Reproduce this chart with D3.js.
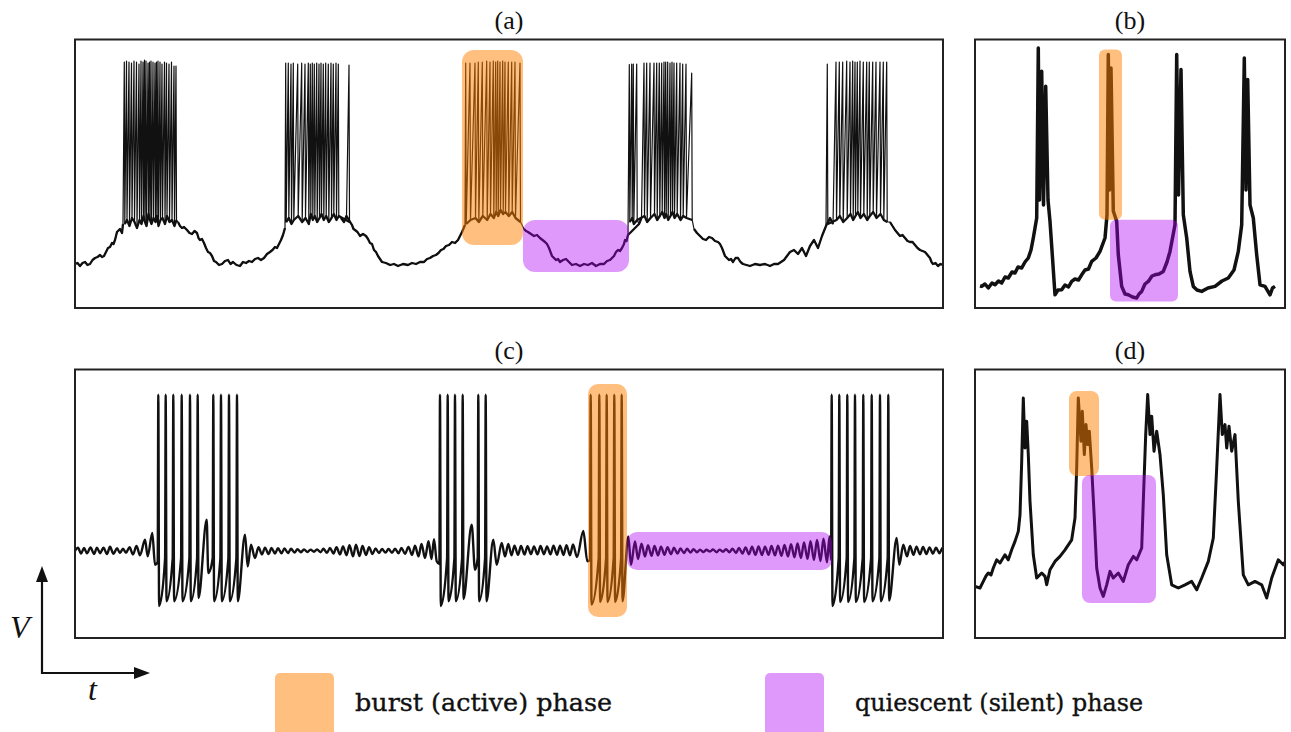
<!DOCTYPE html>
<meta charset="utf-8">
<script src="https://d3js.org/d3.v7.min.js"></script>
<style>
  body { margin: 0; background: #fff; }
  .frame { fill: none; stroke: #222; stroke-width: 2; }
  .ptitle { font-family: "Liberation Serif", serif; font-size: 26px; fill: #111; text-anchor: middle; }
  .legend-label { font-family: "DejaVu Serif", serif; font-size: 24px; fill: #111; stroke: #111; stroke-width: 0.35; }
  .axis-letter { font-family: "Liberation Serif", serif; font-style: italic; font-size: 32px; fill: #111; }
</style>
<div id="chart"></div>
<script>
// ---- data: time in s, voltage in mV ----

// (a) experimental bursting trace: slow wave [t, V] + spikes [t, peak, trough]
const aBase = [[0,-67],[0.025,-66.5],[0.05,-68],[0.075,-66.5],[0.10,-66],[0.125,-67.5],[0.15,-67],[0.175,-65],[0.20,-64],
  [0.225,-63.5],[0.25,-62.5],[0.27,-63.5],[0.29,-63],[0.31,-61],[0.33,-59],[0.35,-58.5],[0.37,-56.5],[0.385,-57],[0.40,-55],
  [0.42,-51],[0.45,-49.5],[0.47,-51.5],[0.48,-47],
  [1.03,-46],[1.05,-48],[1.07,-49],[1.09,-48.5],[1.12,-50],[1.145,-51.5],[1.17,-52],[1.195,-50.5],[1.22,-51.5],[1.235,-54],
  [1.25,-55],[1.27,-54.5],[1.29,-56.5],[1.31,-59],[1.33,-61],[1.35,-61.5],[1.37,-63],[1.39,-65.5],[1.41,-66],[1.44,-67.5],
  [1.47,-67],[1.50,-65.5],[1.53,-65],[1.555,-67],[1.58,-66],[1.615,-67.5],[1.65,-68],[1.68,-66],[1.71,-66.5],[1.74,-65.5],
  [1.77,-66],[1.80,-64.5],[1.83,-64],[1.86,-65],[1.89,-64],[1.92,-62],[1.95,-61],[1.975,-60],[2.00,-58.5],[2.02,-59],
  [2.04,-57],[2.06,-55],[2.08,-52.5],[2.10,-49],
  [2.66,-44],[2.69,-46],[2.715,-43],
  [2.77,-47.5],[2.785,-49.5],[2.80,-50],[2.825,-51],[2.85,-53],[2.88,-52],[2.91,-53],[2.93,-54.5],[2.95,-56.5],[2.97,-57],
  [2.99,-60],[3.01,-61],[3.03,-63],[3.05,-64.5],[3.07,-66],[3.11,-66.5],[3.15,-67.5],[3.19,-67],[3.23,-68],[3.28,-67],
  [3.33,-67.5],[3.37,-66.5],[3.41,-67],[3.45,-66],[3.49,-66],[3.52,-64.5],[3.55,-64],[3.58,-63],[3.61,-62.5],[3.635,-61.5],
  [3.66,-60],[3.685,-59.5],[3.71,-58],[3.74,-57.5],[3.77,-56],[3.80,-56.5],[3.83,-55],[3.85,-53],[3.87,-51],[3.90,-47.5],
  [4.49,-49.5],[4.51,-50.5],[4.53,-51],[4.56,-52],[4.59,-53],[4.62,-52.5],[4.65,-54],[4.675,-55],[4.70,-56],[4.72,-57],
  [4.74,-59],[4.755,-61],[4.77,-63],[4.79,-64],[4.81,-65],[4.83,-64.5],[4.85,-66],[4.88,-65],[4.91,-64.5],[4.94,-66],
  [4.97,-67.5],[5.01,-67],[5.05,-68],[5.09,-67],[5.13,-67.5],[5.17,-66.5],[5.21,-68],[5.25,-67],[5.29,-67],[5.32,-65.5],
  [5.35,-65],[5.37,-64],[5.39,-63],[5.41,-61],[5.43,-60],[5.45,-60.5],[5.47,-59],[5.49,-57],[5.50,-55],[5.515,-55.5],[5.53,-52.5],
  [5.64,-47],[5.665,-44],
  [6.19,-49.5],[6.22,-51.5],[6.25,-53],[6.28,-54.5],[6.31,-55],[6.34,-53.5],[6.37,-54],[6.40,-55.5],[6.43,-56],[6.45,-57],
  [6.47,-59],[6.485,-61],[6.50,-63],[6.52,-64],[6.54,-65],[6.56,-64.5],[6.58,-66],[6.605,-64],[6.63,-64],[6.655,-66],
  [6.68,-67],[6.715,-67.5],[6.75,-68],[6.80,-67],[6.85,-67.5],[6.90,-67],[6.95,-68],[6.99,-67],[7.03,-67],[7.06,-66],
  [7.09,-65],[7.12,-63],[7.15,-61],[7.19,-60],[7.23,-62],[7.27,-59],[7.31,-63],[7.35,-58],[7.39,-55],[7.43,-59],[7.47,-53],[7.51,-48],
  [7.55,-44],[7.58,-47],
  [8.15,-46],[8.175,-48],[8.20,-50],[8.225,-51.5],[8.25,-53],[8.275,-52.5],[8.30,-54],[8.325,-55.5],[8.35,-56],[8.375,-56],
  [8.40,-57.5],[8.425,-59],[8.45,-60],[8.475,-60.5],[8.50,-61],[8.525,-62.5],[8.55,-64],[8.565,-66],[8.58,-67],[8.605,-66.5],
  [8.63,-68],[8.655,-67],[8.68,-67.5]];

const aBurst1 = [[0.493,34,-47],[0.515,34.5,-45],[0.54,34,-48],[0.565,33.5,-44],[0.59,34.5,-46],[0.615,34,-49],[0.64,33,-45],
  [0.66,34.5,-47],[0.68,34,-43],[0.695,35,-46],[0.71,34.5,-48],[0.73,33.5,-42],[0.745,34,-45],[0.76,34.5,-47],[0.78,34,-44],
  [0.80,33.5,-46],[0.815,34,-43],[0.83,34.5,-48],[0.85,34,-45],[0.87,33,-44],[0.895,34,-47],[0.915,33.5,-43],[0.94,33,-46],
  [0.965,34,-45],[0.99,32,-48],[1.01,32,-45]];
const aBurst2 = [[2.107,33.5,-46],[2.133,33.5,-44],[2.16,33,-47],[2.183,33.5,-45],[2.227,33,-43],[2.267,33.5,-46],[2.30,33,-44],
  [2.333,33.5,-47],[2.353,33,-42],[2.373,33.5,-45],[2.393,33,-43],[2.417,33.5,-46],[2.44,33,-44],[2.46,33.5,-42],[2.483,33,-45],
  [2.507,33.5,-43],[2.533,33,-46],[2.56,33.5,-44],[2.583,33,-42],[2.61,33.5,-45],[2.633,33,-43],[2.74,32.5,-46]];
const aBurst3 = [[3.907,33.5,-47],[3.95,33.5,-45],[4.00,33.5,-44],[4.033,34,-46],[4.073,34,-43],[4.117,34.5,-45],[4.15,34,-42],
  [4.183,34.5,-44],[4.207,34,-41],[4.227,34.5,-43],[4.25,34,-40],[4.277,34.5,-42],[4.30,34,-41],[4.333,34,-43],[4.367,34,-41],
  [4.40,34,-44],[4.45,33.5,-46]];
const aBurst4 = [[5.543,32.7,-46],[5.567,33,-44],[5.583,33,-47],[5.617,33,-45],[5.69,33.5,-43],[5.717,33.5,-46],[5.75,33.5,-44],
  [5.79,33.5,-42],[5.817,33.5,-45],[5.843,33.5,-43],[5.867,33.5,-41],[5.89,34,-44],[5.907,34,-42],[5.927,34,-45],[5.95,33.5,-43],
  [5.97,34,-41],[5.99,33.5,-44],[6.017,33.5,-42],[6.05,33.5,-45],[6.077,33,-43],[6.11,33,-44],[6.167,28.5,-45]];
const aBurst5 = [[7.523,33,-47],[7.61,34,-45],[7.643,34,-43],[7.677,34,-46],[7.717,34.5,-44],[7.75,34,-42],[7.777,34.5,-45],
  [7.80,34,-43],[7.823,34,-41],[7.85,34.5,-44],[7.883,34,-42],[7.917,34,-45],[7.943,34,-43],[7.977,34,-41],[8.01,34,-44],
  [8.05,34,-42],[8.083,34,-45],[8.117,34,-46]];

// (b) recorded trace [t, V]
const bTrace = [[0.05,-78],[0.067,-78.2],[0.10,-77],[0.133,-79],[0.17,-76.5],[0.20,-77.4],[0.235,-75.5],[0.267,-76.5],[0.30,-73.5],
  [0.333,-74],[0.37,-71],[0.40,-71.5],[0.43,-68.5],[0.467,-69],[0.50,-66],[0.533,-64],[0.56,-60],[0.583,-54],[0.617,-44],
  [0.633,41],[0.645,-35],[0.667,29.4],[0.685,-37.5],[0.707,21.9],[0.73,-35],[0.75,-45.7],[0.773,-62.4],[0.80,-82.4],
  [0.83,-80],[0.867,-79.9],[0.90,-77.5],[0.935,-78.5],[0.967,-75.7],[1.00,-74.5],[1.035,-75],[1.067,-72.4],[1.10,-70],
  [1.135,-69.5],[1.167,-65.7],[1.21,-64],[1.25,-60.7],[1.30,-54],[1.32,-42.5],[1.333,37.7],[1.345,-30],[1.36,31],
  [1.383,-40.5],[1.417,-45.7],[1.433,-62.4],[1.467,-78.2],[1.50,-82],[1.533,-82.4],[1.575,-83.5],[1.617,-84],[1.64,-82],
  [1.667,-80.7],[1.70,-77],[1.733,-75.7],[1.77,-73],[1.80,-72.4],[1.84,-72],[1.883,-70.7],[1.92,-66],[1.95,-60.7],[2.00,-47.4],
  [2.017,37.7],[2.035,-32.5],[2.06,30.2],[2.083,-42.4],[2.117,-54],[2.15,-70.7],[2.183,-78.2],[2.22,-80],[2.267,-80.7],
  [2.33,-79],[2.40,-78.2],[2.47,-75.5],[2.533,-74],[2.59,-70],[2.633,-60.7],[2.667,-47.4],[2.693,36],[2.71,-30],[2.727,25.2],
  [2.75,-37.4],[2.783,-44],[2.817,-62.4],[2.85,-77.4],[2.90,-78.2],[2.95,-82.4],[2.975,-79],[3.00,-78.2]];

// (c) model trace: oscillations [t, V] + spikes [t, pre, peak, trough]
const cBase = [[0,-45.4],[0.03,-43.9],[0.06,-46.8],[0.09,-44.0],[0.12,-46.7],[0.155,-43.7],[0.19,-47.0],[0.22,-43.8],[0.25,-46.6],
  [0.285,-43.9],[0.32,-47.0],[0.35,-43.4],[0.385,-46.9],[0.42,-44.1],[0.45,-46.5],[0.48,-44.3],[0.51,-46.4],[0.545,-43.6],
  [0.58,-47.2],[0.615,-43.0],[0.65,-47.6],[0.70,-39.9],[0.727,-48.2],[0.773,-36.5],[0.80,-52.4],
  [1.317,-29.9],[1.333,-56.5],
  [1.70,-37.4],[1.727,-53.2],[1.76,-42.4],[1.80,-49],
  [1.835,-43.6],[1.87,-47.2],[1.90,-43.8],[1.935,-47.0],[1.965,-44.0],[2.00,-46.8],[2.03,-44.1],[2.065,-46.7],[2.095,-44.2],
  [2.13,-46.5],[2.16,-44.4],[2.195,-46.3],[2.225,-44.6],[2.26,-46.1],[2.29,-44.7],[2.325,-46.0],[2.355,-44.8],[2.39,-45.9],
  [2.42,-44.7],[2.455,-46.1],[2.485,-44.4],[2.52,-46.4],[2.55,-44.0],[2.585,-46.8],[2.615,-43.6],[2.65,-47.2],[2.68,-43.2],
  [2.715,-47.6],[2.745,-42.6],[2.78,-48.2],[2.81,-42.4],[2.845,-48.0],[2.875,-43.0],[2.91,-47.5],[2.94,-43.6],[2.975,-47.0],
  [3.005,-44.2],[3.04,-46.5],[3.07,-44.5],[3.105,-46.3],[3.135,-44.5],[3.17,-46.4],[3.20,-44.3],[3.235,-46.6],[3.265,-44.0],
  [3.30,-46.9],[3.335,-43.5],[3.37,-47.5],[3.40,-42.8],[3.435,-48.2],[3.465,-42.0],[3.50,-49.0],[3.535,-40.6],[3.565,-49.5],
  [3.59,-39.6],[3.617,-50.6],
  [3.967,-32.4],[4.00,-54.9],
  [4.183,-39.9],[4.217,-52.4],[4.267,-41.5],[4.30,-48.2],
  [4.333,-42.0],[4.365,-47.6],[4.395,-42.8],[4.43,-47.4],[4.46,-43.0],[4.495,-47.3],[4.525,-43.1],[4.56,-47.1],[4.59,-43.2],
  [4.625,-47.2],[4.655,-43.0],[4.69,-47.1],[4.72,-43.2],[4.755,-47.2],[4.785,-42.9],[4.82,-47.4],[4.85,-42.8],[4.885,-47.5],
  [4.915,-42.6],[4.95,-47.7],[4.98,-42.2],[5.02,-48.5],[5.083,-35.5],[5.123,-50.6],
  [5.533,-38.2],[5.56,-52.4],[5.60,-40.7],
  [5.63,-49.5],[5.665,-41.8],[5.70,-48.3],[5.73,-42.6],[5.765,-47.9],[5.795,-43.0],[5.83,-47.6],[5.86,-43.3],[5.895,-47.4],
  [5.925,-43.6],[5.96,-47.1],[5.99,-43.9],[6.025,-46.8],[6.055,-44.2],[6.09,-46.5],[6.12,-44.4],[6.155,-46.3],[6.185,-44.6],
  [6.22,-46.1],[6.25,-44.8],[6.285,-46.0],[6.315,-44.9],[6.35,-45.8],[6.38,-44.7],[6.415,-46.1],[6.445,-44.8],[6.48,-45.9],
  [6.51,-44.6],[6.545,-46.1],[6.575,-44.3],[6.61,-46.5],[6.64,-44.0],[6.675,-46.8],[6.705,-43.7],[6.74,-47.1],[6.77,-43.4],
  [6.805,-47.4],[6.835,-43.2],[6.87,-47.5],[6.90,-43.3],[6.935,-47.4],[6.965,-43.0],[7.00,-47.7],[7.03,-42.8],[7.065,-47.9],
  [7.095,-42.5],[7.13,-48.2],[7.16,-42.1],[7.195,-48.6],[7.225,-41.7],[7.26,-49.0],[7.29,-41.2],[7.325,-49.4],[7.355,-40.6],
  [7.39,-50.0],[7.42,-40.0],[7.455,-50.5],[7.485,-39.4],[7.52,-51.2],[7.545,-38.2],
  [8.217,-39],[8.243,-52.4],[8.283,-42.4],[8.32,-48.2],
  [8.35,-43.0],[8.385,-47.4],[8.415,-43.3],[8.45,-47.2],[8.48,-43.5],[8.515,-47.0],[8.545,-43.7],[8.58,-46.8],[8.61,-43.9],
  [8.645,-46.6],[8.675,-44.0],[8.70,-45.4]];

const cSpikes1 = [[0.833,-51,32.6,-73],[0.907,-49,32.6,-70.6],[0.983,-49,32.6,-70.6],[1.067,-49,32.6,-70.6],[1.15,-49,32.6,-70.6],
  [1.227,-49,32.6,-69],[1.383,-49,32.6,-70.6],[1.46,-49,32.6,-70.6],[1.54,-49,32.6,-70.6],[1.62,-49,32.6,-70.6]];
const cSpikes2 = [[3.65,-52,32.6,-73],[3.727,-49,32.6,-70.6],[3.80,-49,32.6,-70.6],[3.877,-49,32.6,-69.5],[4.033,-49,32.6,-70.6],
  [4.107,-49,32.6,-70.6]];
const cSpikes3 = [[5.157,-50,32.6,-72.3],[5.243,-49,32.6,-71],[5.317,-49,32.6,-71],[5.393,-49,32.6,-71],[5.467,-49,32.6,-70.6]];
const cSpikes4 = [[7.567,-50,32.6,-73],[7.643,-49,32.6,-71],[7.723,-49,32.6,-71],[7.80,-49,32.6,-71],[7.883,-49,32.6,-71],
  [7.967,-49,32.6,-70.6],[8.05,-49,32.6,-70.6],[8.133,-49,32.6,-70.3]];

// (d) recorded trace [t, V]
const dTrace = [[0,-63.2],[0.05,-64],[0.083,-60.7],[0.11,-58],[0.133,-56.5],[0.16,-57.5],[0.183,-54],[0.217,-49.9],[0.25,-51.5],
  [0.30,-47.4],[0.333,-49.9],[0.367,-44.9],[0.40,-40.7],[0.433,-35.7],[0.45,-27.4],[0.467,-0.7],[0.483,31],[0.50,6],
  [0.517,19.4],[0.533,2.7],[0.55,-20.7],[0.583,-47.4],[0.617,-59],[0.667,-56.5],[0.70,-58.2],[0.717,-62.4],[0.75,-54.9],
  [0.80,-50.7],[0.85,-48.2],[0.90,-44.9],[0.967,-39.9],[1.00,-29],[1.017,-4],[1.033,31],[1.06,9.4],[1.073,24.4],[1.093,2.7],
  [1.11,17.7],[1.127,7.7],[1.143,14.4],[1.167,-4],[1.193,-29],[1.217,-54],[1.25,-64],[1.283,-68.2],[1.317,-62.4],[1.35,-55.7],
  [1.383,-59],[1.433,-56.5],[1.483,-60.7],[1.533,-52.4],[1.583,-48.2],[1.617,-49.9],[1.667,-44],[1.683,-20.7],[1.707,12.7],
  [1.727,32.7],[1.75,12.7],[1.767,21.9],[1.79,4.4],[1.817,14.4],[1.85,2.7],[1.883,-17.4],[1.917,-47.4],[1.967,-62.4],
  [2.033,-64],[2.10,-62.4],[2.167,-60.7],[2.217,-64.9],[2.267,-59],[2.333,-50.7],[2.383,-39],[2.417,-4],[2.45,32.7],
  [2.473,12.7],[2.50,17.7],[2.517,6],[2.54,16.9],[2.567,4.4],[2.60,12.7],[2.633,-20.7],[2.683,-57.4],[2.733,-62.4],
  [2.80,-60.7],[2.867,-62.4],[2.917,-69],[2.967,-59],[3.033,-49.9],[3.083,-52.4],[3.10,-51]];

// highlighted phases [t0, t1, vTop, vBottom]
const burstBoxes = { a: [3.87, 4.48, 40, -57.5], b: [1.24, 1.47, 40.2, -44.9], c: [5.13, 5.52, 38, -78.5], d: [0.94, 1.24, 34.5, -8] };
const quietBoxes = { a: [4.48, 5.54, -45, -71], b: [1.35, 2.03, -44.9, -85.7], c: [5.52, 7.57, -36, -55], d: [1.07, 1.81, -7.5, -71.5] };

const panelTitles = { a: "(a)", b: "(b)", c: "(c)", d: "(d)" };
const legendLabels = ["burst (active) phase", "quiescent (silent) phase"];

// ---- layout ----
const W = 1291, H = 732;
const orange = "#ff7f00", purple = "#b000f5";
const panels = {
  a: { x: 75, y: 39.5, w: 868, h: 268.5, tmax: 8.68, lw: 1.2, baseLw: 2.3, r: 12, smooth: false },
  b: { x: 975, y: 39.5, w: 310, h: 268.5, tmax: 3.1, lw: 3.5, r: 6, smooth: false },
  c: { x: 75, y: 369.5, w: 868, h: 268.5, tmax: 8.68, lw: 2.4, r: 10, smooth: true },
  d: { x: 975, y: 369.5, w: 310, h: 268.5, tmax: 3.1, lw: 3, r: 8, smooth: false }
};

function spikeTrace(base, bursts) {
  const pts = base.map(d => [d[0], d[1]]);
  bursts.forEach(b => b.forEach(s => {
    if (s.length === 3) { pts.push([s[0], s[1]]); pts.push([s[0] + 0.005, s[2]]); }
    else { pts.push([s[0] - 0.006, s[1]]); pts.push([s[0], s[2]]); pts.push([s[0] + 0.008, s[3]]); }
  }));
  return pts.sort((p, q) => p[0] - q[0]);
}

// split a slow wave into runs, leaving out the long jumps across bursts
function splitRuns(base, gap) {
  const runs = [[base[0]]];
  for (let i = 1; i < base.length; i++) {
    if (base[i][0] - base[i - 1][0] > gap) runs.push([]);
    runs[runs.length - 1].push(base[i]);
  }
  return runs;
}

const aBursts = [aBurst1, aBurst2, aBurst3, aBurst4, aBurst5];
const traces = {
  a: spikeTrace(aBase, aBursts),
  b: bTrace,
  c: spikeTrace(cBase, [cSpikes1, cSpikes2, cSpikes3, cSpikes4]),
  d: dTrace
};
// thick under-layers for panel a: slow-wave runs + dense band along spike troughs
const underlays = {
  a: splitRuns(aBase, 0.2).concat(aBursts.map(b => b.map(s => [s[0] + 0.005, s[2]])))
};

const svg = d3.select("#chart").append("svg")
  .attr("width", W).attr("height", H);
svg.append("rect").attr("width", W).attr("height", H).attr("fill", "#fff");
const defs = svg.append("defs");

Object.keys(panels).forEach(k => {
  const p = panels[k];
  const x = d3.scaleLinear().domain([0, p.tmax]).range([p.x, p.x + p.w]);
  const y = d3.scaleLinear().domain([-89, 45.25]).range([p.y + p.h, p.y]);

  defs.append("clipPath").attr("id", "clip-" + k)
    .append("rect").attr("x", p.x).attr("y", p.y).attr("width", p.w).attr("height", p.h);

  const g = svg.append("g").attr("clip-path", "url(#clip-" + k + ")");

  const line = d3.line().x(d => x(d[0])).y(d => y(d[1]))
    .curve(p.smooth ? d3.curveMonotoneX : d3.curveLinear);

  (underlays[k] || []).forEach(run => {
    g.append("path")
      .datum(run)
      .attr("d", line)
      .attr("fill", "none")
      .attr("stroke", "#111")
      .attr("stroke-width", p.baseLw)
      .attr("stroke-linejoin", "round");
  });

  g.append("path")
    .datum(traces[k])
    .attr("d", line)
    .attr("fill", "none")
    .attr("stroke", "#111")
    .attr("stroke-width", p.lw)
    .attr("stroke-linejoin", "round");

  // phase overlays on top of the trace (semi-transparent)
  [[burstBoxes[k], orange, 0.5], [quietBoxes[k], purple, 0.4]].forEach(([bx, col, op]) => {
    g.append("rect")
      .attr("x", x(bx[0])).attr("y", y(bx[2]))
      .attr("width", x(bx[1]) - x(bx[0])).attr("height", y(bx[3]) - y(bx[2]))
      .attr("rx", p.r).attr("ry", p.r)
      .attr("fill", col).attr("fill-opacity", op);
  });

  svg.append("rect").attr("class", "frame")
    .attr("x", p.x).attr("y", p.y).attr("width", p.w).attr("height", p.h);

  svg.append("text").attr("class", "ptitle")
    .attr("x", p.x + p.w / 2)
    .attr("y", p.y - 11)
    .text(panelTitles[k]);
});

// V / t axes sketch (bottom-left)
const ax = svg.append("g").attr("stroke", "#111").attr("fill", "#111");
ax.append("line").attr("x1", 42).attr("y1", 674).attr("x2", 42).attr("y2", 580).attr("stroke-width", 2.2);
ax.append("path").attr("d", "M42,566 L36,582 L48,582 Z").attr("stroke", "none");
ax.append("line").attr("x1", 41).attr("y1", 673).attr("x2", 136).attr("y2", 673).attr("stroke-width", 2.2);
ax.append("path").attr("d", "M150,673 L134,667 L134,679 Z").attr("stroke", "none");
svg.append("text").attr("class", "axis-letter").attr("x", 10).attr("y", 638).text("V");
svg.append("text").attr("class", "axis-letter").attr("x", 88).attr("y", 700).text("t");

// legend
const legendX = [[275, 355, 257], [765, 855, 288]];
[orange, purple].forEach((col, i) => {
  svg.append("rect")
    .attr("x", legendX[i][0]).attr("y", 673).attr("width", 59).attr("height", 70)
    .attr("rx", 5).attr("fill", col).attr("fill-opacity", i === 0 ? 0.5 : 0.4);
  svg.append("text").attr("class", "legend-label")
    .attr("x", legendX[i][1]).attr("y", 711)
    .attr("textLength", legendX[i][2])
    .attr("lengthAdjust", "spacingAndGlyphs")
    .text(legendLabels[i]);
});
</script>
